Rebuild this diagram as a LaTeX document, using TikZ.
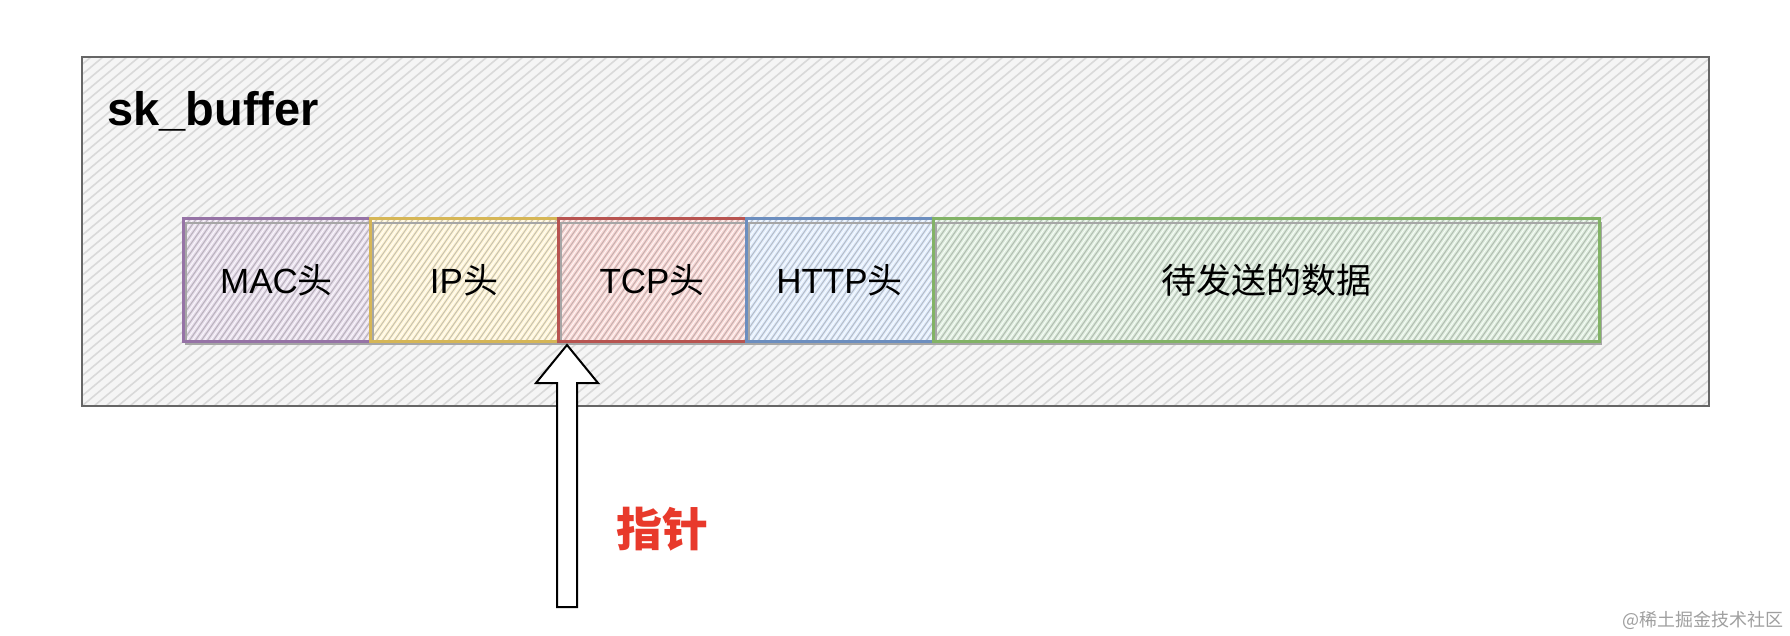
\documentclass[tikz,border=0pt]{standalone}
\usepackage{fontspec}
\setmainfont{Liberation Sans}
\newfontfamily\cjk{Noto Sans CJK SC}
\definecolor{bgfill}{HTML}{F5F5F5}
\definecolor{bghatch}{HTML}{D9D9D9}
\definecolor{bgline}{HTML}{666666}
\definecolor{macS}{HTML}{9673A6}\definecolor{macF}{HTML}{E1D5E7}
\definecolor{ipS}{HTML}{D6B656}\definecolor{ipF}{HTML}{FFF2CC}
\definecolor{tcpS}{HTML}{B85450}\definecolor{tcpF}{HTML}{F8CECC}
\definecolor{httpS}{HTML}{6C8EBF}\definecolor{httpF}{HTML}{DAE8FC}
\definecolor{datS}{HTML}{82B366}\definecolor{datF}{HTML}{D5E8D4}
\definecolor{ptrred}{HTML}{E8392B}
\tikzset{
  lbl/.style={font=\fontsize{35}{40}\selectfont, text=black},
}
\newcommand{\segbox}[6]{% name, x1, x2, stroke, fill, label
  \begin{scope}
    \clip (#2,219) rectangle (#3,341);
    \fill[#5!80!white] (#2,219) rectangle (#3,341);
    \foreach \t in {0,6,...,800}{
      \draw[#5!45!gray, line width=1.1pt, opacity=0.75] (#2-120+\t,341) -- ++(88,-126);
      \draw[white, line width=0.9pt, opacity=0.8] (#2-117+\t,341) -- ++(88,-126);
    }
  \end{scope}
  \draw[gray!70, line width=1.5pt] (#2+3,223) rectangle (#3+2,344);
  \draw[#4, line width=3pt] (#2,219) rectangle (#3,341);
  \node[lbl] (#1) at ({(#2+#3)/2},280) {#6};
}
\begin{document}
\begin{tikzpicture}[x=1pt,y=-1pt]
\useasboundingbox (0,0) rectangle (1790,636);
\fill[white] (0,0) rectangle (1790,636);
% outer container
\fill[bgfill] (82,57) rectangle (1709,406);
\begin{scope}
  \clip (82,57) rectangle (1709,406);
  \foreach \t in {0,12,...,2100}{
    \draw[bghatch, line width=1.6pt] (82-420+\t,406) -- ++(417,-349);
  }
\end{scope}
\draw[bgline, line width=2pt] (82,57) rectangle (1709,406);
\node[anchor=base west, font=\bfseries\fontsize{47}{52}\selectfont, inner sep=0pt] (title) at (107,126) {sk\_buffer};
% segments
\segbox{mac}{183}{370}{macS}{macF}{MAC{\cjk 头}}
\segbox{ip}{370}{558}{ipS}{ipF}{IP{\cjk 头}}
\segbox{tcp}{558}{746}{tcpS}{tcpF}{TCP{\cjk 头}}
\segbox{http}{746}{933}{httpS}{httpF}{HTTP{\cjk 头}}
\segbox{data}{933}{1599}{datS}{datF}{{\cjk 待发送的数据}}
% pointer arrow
\coordinate (tip) at (567,345);
\draw[black, fill=white, line width=2pt, line join=miter]
  (tip) -- (598,383) -- (577,383) -- (577,607) -- (557,607) -- (557,383) -- (536,383) -- cycle;
\node[text=ptrred, font=\cjk\bfseries\fontsize{46}{52}\selectfont] (ptr) at (662,529) {指针};
% watermark
\node[anchor=east, text=gray!75, font=\cjk\fontsize{18}{20}\selectfont, inner sep=0pt] (wm) at (1784,620) {@稀土掘金技术社区};
\end{tikzpicture}
\end{document}
